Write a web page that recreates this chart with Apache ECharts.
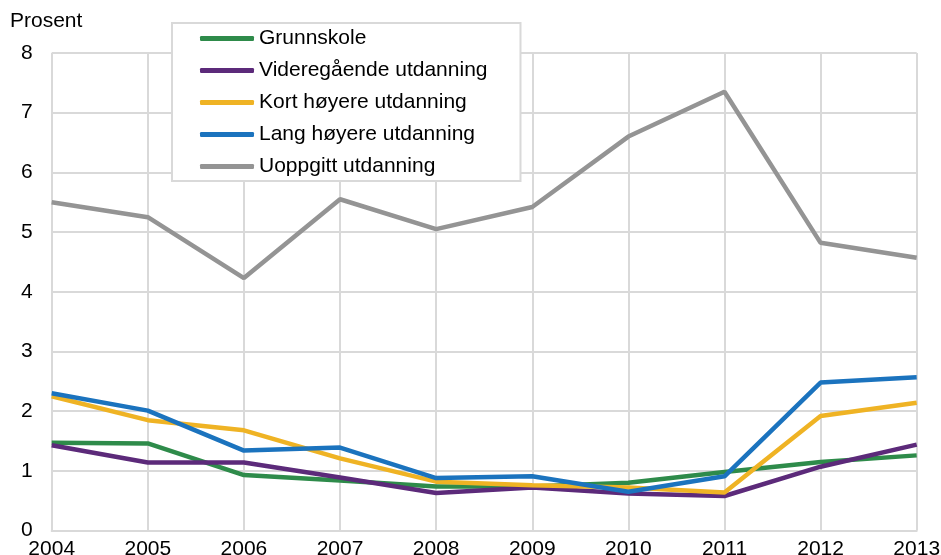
<!DOCTYPE html>
<html>
<head>
<meta charset="utf-8">
<script src="https://cdn.jsdelivr.net/npm/echarts@6/dist/echarts.min.js"></script>
<style>
html,body{margin:0;padding:0;background:#fff;}
#chart{width:941px;height:555px;}
</style>
</head>
<body>
<div id="chart"></div>
<script>
const years = ['2004','2005','2006','2007','2008','2009','2010','2011','2012','2013'];
const grunnskole = [1.47, 1.46, 0.93, 0.84, 0.74, 0.74, 0.80, 0.98, 1.15, 1.26];
const videregaende = [1.43, 1.14, 1.14, 0.89, 0.63, 0.72, 0.62, 0.58, 1.07, 1.44];
const kortHoyere = [2.25, 1.85, 1.68, 1.21, 0.82, 0.76, 0.72, 0.64, 1.92, 2.14];
const langHoyere = [2.30, 2.01, 1.34, 1.39, 0.88, 0.91, 0.65, 0.91, 2.48, 2.57];
const uoppgitt = [5.50, 5.25, 4.23, 5.55, 5.05, 5.42, 6.60, 7.35, 4.82, 4.57];
const seriesNames = ['Grunnskole','Videregående utdanning','Kort høyere utdanning','Lang høyere utdanning','Uoppgitt utdanning'];
const seriesData = [grunnskole, videregaende, kortHoyere, langHoyere, uoppgitt];
const colors = ['#2e8b4a','#5c2a7a','#efb324','#1b73be','#949494'];
const yTicks = [0,1,2,3,4,5,6,7,8];

const chart = echarts.init(document.getElementById('chart'));
const font = '"Liberation Sans", Arial, sans-serif';
const fs = 21;
chart.setOption({
  animation: false,
  color: colors,
  textStyle: { fontFamily: font },
  title: {
    text: 'Prosent',
    left: 5, top: 6,
    textStyle: { fontSize: fs, fontWeight: 'normal', color: '#000', fontFamily: font }
  },
  grid: { left: 51.7, right: 24.3, top: 53, bottom: 24.4, containLabel: false, outerBoundsMode: 'none' },
  legend: {
    orient: 'vertical',
    left: 172, top: 23,
    padding: [5, 33, 4, 28],
    itemGap: 11,
    itemWidth: 54, itemHeight: 5,
    icon: 'roundRect',
    borderColor: '#d9d9d9', borderWidth: 2,
    backgroundColor: '#fff',
    textStyle: { fontSize: fs, color: '#000', fontFamily: font },
    data: seriesNames
  },
  xAxis: {
    type: 'category',
    data: years,
    boundaryGap: false,
    axisLine: { show: true, lineStyle: { color: '#d9d9d9', width: 2 } },
    axisTick: { show: false },
    splitLine: { show: true, lineStyle: { color: '#d9d9d9', width: 2 } },
    axisLabel: { fontSize: fs, color: '#000', margin: 8, fontFamily: font, showMaxLabel: true, showMinLabel: true, interval: 0 }
  },
  yAxis: {
    type: 'value',
    min: yTicks[0], max: yTicks[yTicks.length-1], interval: 1,
    axisLine: { show: false },
    axisTick: { show: false },
    splitLine: { show: true, lineStyle: { color: '#d9d9d9', width: 2 } },
    axisLabel: { fontSize: fs, color: '#000', margin: 19, fontFamily: font }
  },
  series: seriesNames.map((n, i) => ({
    name: n,
    type: 'line',
    data: seriesData[i],
    showSymbol: false,
    symbol: 'none',
    lineStyle: { width: 4.5, color: colors[i] },
    itemStyle: { color: colors[i] },
    z: 2 + (i === 3 ? 1 : 0)
  }))
});
</script>
</body>
</html>
